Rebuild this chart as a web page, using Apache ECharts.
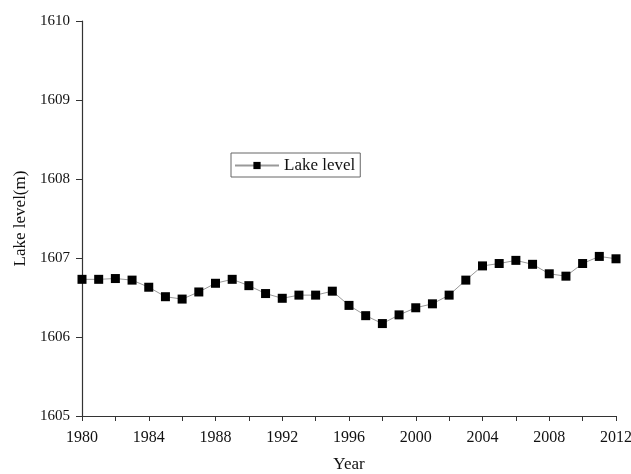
<!DOCTYPE html>
<html>
<head>
<meta charset="utf-8">
<script src="https://cdn.jsdelivr.net/npm/echarts@6/dist/echarts.min.js"></script>
<style>
html,body{margin:0;padding:0;background:#fff;}
#chart{width:631px;height:474px;}
</style>
</head>
<body>
<div id="chart"></div>
<script>
const years = [1980,1981,1982,1983,1984,1985,1986,1987,1988,1989,1990,1991,1992,1993,1994,1995,1996,1997,1998,1999,2000,2001,2002,2003,2004,2005,2006,2007,2008,2009,2010,2011,2012];
const lakeLevel = [1606.73,1606.73,1606.74,1606.72,1606.63,1606.51,1606.48,1606.57,1606.68,1606.73,1606.65,1606.55,1606.49,1606.53,1606.53,1606.58,1606.40,1606.27,1606.17,1606.28,1606.37,1606.42,1606.53,1606.72,1606.90,1606.93,1606.97,1606.92,1606.80,1606.77,1606.93,1607.02,1606.99];
const seriesName = 'Lake level';
const xTitle = 'Year';
const yTitle = 'Lake level(m)';

const font = 'Liberation Serif, Times New Roman, serif';
const chart = echarts.init(document.getElementById('chart'));
chart.setOption({
  animation: false,
  backgroundColor: '#ffffff',
  grid: {left: 82, right: 15, top: 21, bottom: 58, containLabel: false, outerBoundsMode: 'none'},
  legend: {
    left: 231, top: 153,
    data: [seriesName],
    itemWidth: 44, itemHeight: 9, itemGap: 4,
    padding: [4, 5, 3, 3],
    borderColor: '#666', borderWidth: 1,
    textStyle: {fontFamily: font, fontSize: 17, color: '#111'}
  },
  xAxis: {
    type: 'value', min: 1980, max: 2012, interval: 4,
    name: xTitle, nameLocation: 'middle', nameGap: 40,
    nameTextStyle: {fontFamily: font, fontSize: 17, color: '#111'},
    axisLine: {show: true, lineStyle: {color: '#333', width: 1.2}},
    axisTick: {show: true, inside: false, length: 5, lineStyle: {color: '#333'}},
    minorTick: {show: true, splitNumber: 2, length: 5, lineStyle: {color: '#333'}},
    axisLabel: {fontFamily: font, fontSize: 16, color: '#111', margin: 14, formatter: v => String(v)},
    splitLine: {show: false}
  },
  yAxis: {
    type: 'value', min: 1605, max: 1610, interval: 1,
    name: yTitle, nameLocation: 'middle', nameGap: 52, nameRotate: 90,
    nameTextStyle: {fontFamily: font, fontSize: 17, color: '#111'},
    axisLine: {show: true, lineStyle: {color: '#333', width: 1.2}},
    axisTick: {show: true, inside: false, length: 6, lineStyle: {color: '#333'}},
    axisLabel: {fontFamily: font, fontSize: 15, color: '#111', margin: 12, formatter: v => String(v)},
    splitLine: {show: false}
  },
  series: [{
    name: seriesName,
    type: 'line',
    data: years.map((y, i) => [y, lakeLevel[i]]),
    symbol: 'rect',
    symbolSize: 9,
    showAllSymbol: true,
    clip: true,
    lineStyle: {color: '#999', width: 1},
    itemStyle: {color: '#000', borderWidth: 0}
  }]
});
</script>
</body>
</html>
